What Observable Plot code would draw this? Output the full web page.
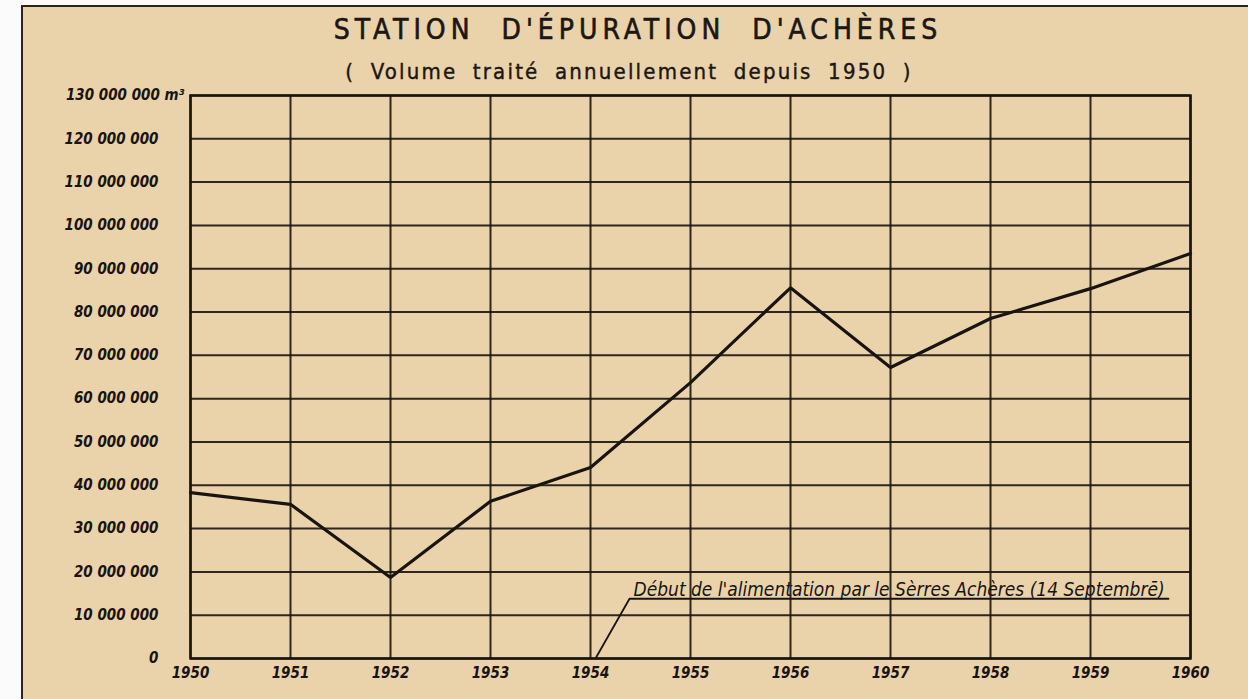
<!DOCTYPE html>
<html>
<head>
<meta charset="utf-8">
<script src="https://cdn.jsdelivr.net/npm/d3@7"></script>
<script src="https://cdn.jsdelivr.net/npm/@observablehq/plot@0.6"></script>
<style>
  html, body { margin: 0; padding: 0; background: #ffffff; }
  #page { position: relative; width: 1248px; height: 699px; overflow: hidden; background: #fbfbfb; }
  #paper { position: absolute; left: 21px; top: 5px; width: 1227px; height: 694px; background: #ead3aa;
           border-left: 2px solid #2a2520; border-top: 2px solid #2a2520; box-sizing: border-box; }
  #title { position: absolute; left: 0; width: 1276px; top: 13px; text-align: center;
           font-family: "DejaVu Sans Condensed", "Liberation Sans Narrow", "DejaVu Sans", sans-serif;
           font-size: 28px; letter-spacing: 5px; word-spacing: 14px; color: #1c1712;
           -webkit-text-stroke: 0.6px #1c1712; }
  #subtitle { position: absolute; left: 0; width: 1258px; top: 59px; text-align: center;
           font-family: "DejaVu Sans Condensed", "Liberation Sans Narrow", "DejaVu Sans", sans-serif;
           font-size: 22px; letter-spacing: 2.2px; word-spacing: 7px; color: #1c1712;
           -webkit-text-stroke: 0.4px #1c1712; }
  #chart { position: absolute; left: 0; top: 80px; }
</style>
</head>
<body>
<div id="page">
  <div id="paper"></div>
  <div id="title">STATION D'ÉPURATION D'ACHÈRES</div>
  <div id="subtitle">( Volume traité annuellement depuis 1950 )</div>
  <div id="chart"></div>
</div>
<script>
// Years (x categories)
const years = [1950, 1951, 1952, 1953, 1954, 1955, 1956, 1957, 1958, 1959, 1960];
// Annual treated volume, m³
const volumes = [38.3e6, 35.6e6, 18.7e6, 36.3e6, 44.1e6, 63.7e6, 85.6e6, 67.2e6, 78.5e6, 85.4e6, 93.5e6];
// Y ticks
const yTicks = [0, 10e6, 20e6, 30e6, 40e6, 50e6, 60e6, 70e6, 80e6, 90e6, 100e6, 110e6, 120e6, 130e6];
const yTopLabel = ["130 000 000 m³"];
// Annotation
const noteText = ["Début de l'alimentation par le Sèrres Achères (14 Septembrē)"];
const noteX = [1954.43];
const noteY = [15.8e6];
const leaderX = [1954.05, 1954.39, 1959.78];
const leaderY = [0, 13.8e6, 13.8e6];

const ink = "#1a1410";
const fmt = d => d3.format(",")(d).replace(/,/g, " ");
const data = years.map((y, i) => ({year: y, v: volumes[i]}));
const leader = leaderX.map((x, i) => ({x, y: leaderY[i]}));

const chart = Plot.plot({
  width: 1248,
  height: 619,
  marginLeft: 190,
  marginRight: 58,
  marginTop: 15,
  marginBottom: 41,
  x: {domain: [1950, 1960], label: null},
  y: {domain: [0, 130e6], label: null},
  style: {
    background: "transparent",
    fontFamily: "'DejaVu Sans Condensed', 'Liberation Sans Narrow', 'DejaVu Sans', sans-serif",
    fontSize: "15px",
    fontWeight: "bold",
    fontStyle: "italic",
    color: ink
  },
  marks: [
    Plot.ruleY(yTicks, {stroke: ink, strokeWidth: 2, strokeOpacity: 0.9}),
    Plot.ruleX(years, {stroke: ink, strokeWidth: 2, strokeOpacity: 0.9}),
    Plot.frame({stroke: ink, strokeWidth: 2.5}),
    Plot.line(data, {x: "year", y: "v", stroke: ink, strokeWidth: 3.2, strokeLinejoin: "miter"}),
    Plot.line(leader, {x: "x", y: "y", stroke: ink, strokeWidth: 1.8}),
    Plot.text(noteText, {x: noteX, y: noteY, text: d => d, textAnchor: "start",
      fontSize: 19, fontWeight: "normal", fontStyle: "italic", fill: ink,
      fontFamily: "'DejaVu Sans Condensed', 'DejaVu Sans', sans-serif"}),
    Plot.axisY(yTicks.slice(0, -1), {tickSize: 0, tickPadding: 32, tickFormat: fmt, fill: ink}),
    Plot.text(yTopLabel, {x: [1950], y: [130e6], text: d => d, textAnchor: "end", dx: -6, fill: ink,
      fontSize: 15, fontWeight: "bold", fontStyle: "italic"}),
    Plot.axisX(years, {tickSize: 0, tickPadding: 9, tickFormat: d => String(d), fill: ink})
  ]
});
document.getElementById("chart").appendChild(chart);
</script>
</body>
</html>
